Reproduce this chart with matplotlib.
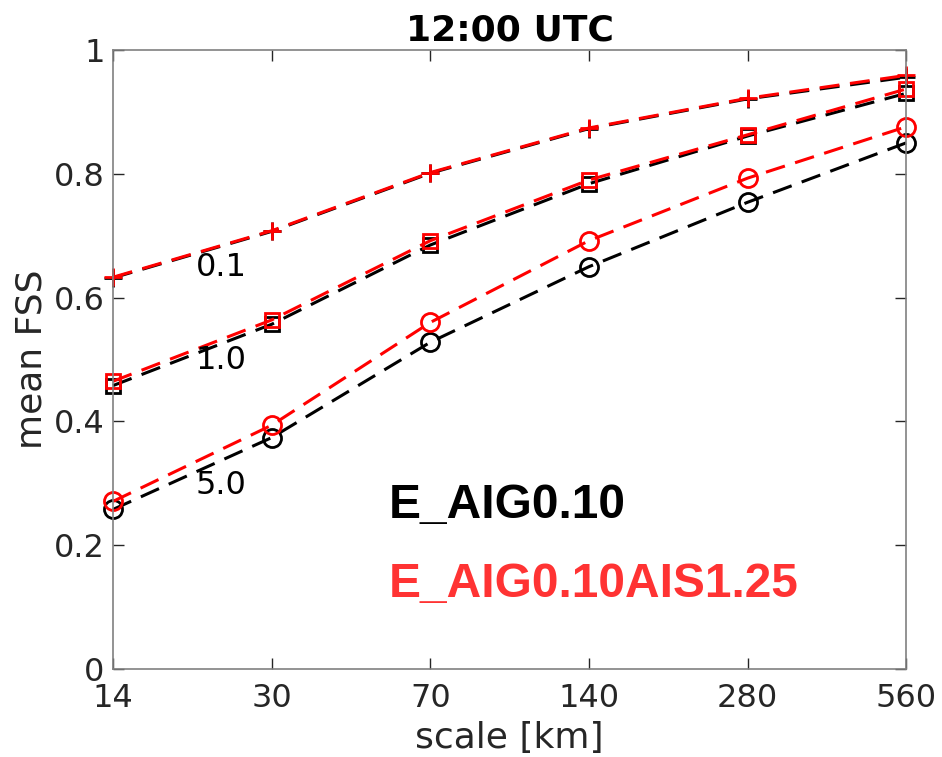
import matplotlib
matplotlib.use("Agg")
import matplotlib.pyplot as plt

# spatial scales and mean FSS per threshold (0.1, 1.0, 5.0 mm)
scales = ["14", "30", "70", "140", "280", "560"]
thresholds = ["0.1", "1.0", "5.0"]
markers = ["+", "s", "o"]

fss_aig = {
    "0.1": [0.632, 0.707, 0.801, 0.873, 0.921, 0.956],
    "1.0": [0.458, 0.557, 0.685, 0.784, 0.861, 0.930],
    "5.0": [0.258, 0.374, 0.528, 0.650, 0.754, 0.850],
}
fss_ais = {
    "0.1": [0.633, 0.708, 0.802, 0.874, 0.922, 0.959],
    "1.0": [0.465, 0.564, 0.692, 0.790, 0.863, 0.937],
    "5.0": [0.271, 0.394, 0.560, 0.692, 0.793, 0.876],
}
label_pos = {"0.1": 0.648, "1.0": 0.499, "5.0": 0.297}

x = list(range(len(scales)))

fig = plt.figure(figsize=(9.42, 7.57), dpi=100)
ax = fig.add_axes([0.120, 0.116, 0.842, 0.818])

for th, mk in zip(thresholds, markers):
    ms = 13 if mk == "+" else (10 if mk == "s" else 13)
    ax.plot(x, fss_aig[th], color="black", linestyle="--", dashes=(6.5, 3.5),
            linewidth=2.2, marker=mk, markersize=ms, markeredgewidth=2,
            markerfacecolor="none", clip_on=False)
    ax.plot(x, fss_ais[th], color="red", linestyle="--", dashes=(6.5, 3.5),
            linewidth=2.2, marker=mk, markersize=ms, markeredgewidth=2,
            markerfacecolor="none", clip_on=False)
    ax.text(0.52, label_pos[th], th, fontsize=23, color="black",
            ha="left", va="center")

ax.text(1.74, 0.265, "E_AIG0.10", fontsize=34.5, fontweight="bold",
        family="Liberation Sans", color="black", ha="left", va="center")
ax.text(1.74, 0.137, "E_AIG0.10AIS1.25", fontsize=34.5, fontweight="bold",
        family="Liberation Sans", color="#ff3333", ha="left", va="center")

ax.set_xlim(0, 5)
ax.set_ylim(0, 1)
ax.set_xticks(x)
ax.set_xticklabels(scales)
ax.set_yticks([0, 0.2, 0.4, 0.6, 0.8, 1])
ax.set_yticklabels(["0", "0.2", "0.4", "0.6", "0.8", "1"])

ax.tick_params(direction="in", length=8, width=1, color="0.15",
               labelsize=23, labelcolor="0.15", top=True, right=True)
ax.tick_params(axis="x", pad=10)
ax.tick_params(axis="y", pad=6)
for sp in ax.spines.values():
    sp.set_color("0.5")
    sp.set_linewidth(1.2)

ax.set_xlabel("scale [km]", fontsize=26, color="0.15", labelpad=5)
ax.set_ylabel("mean FSS", fontsize=26, color="0.15", labelpad=4)
ax.set_title("12:00 UTC", fontsize=26, fontweight="bold", pad=7)

fig.savefig("out.png", dpi=100, facecolor="white")
